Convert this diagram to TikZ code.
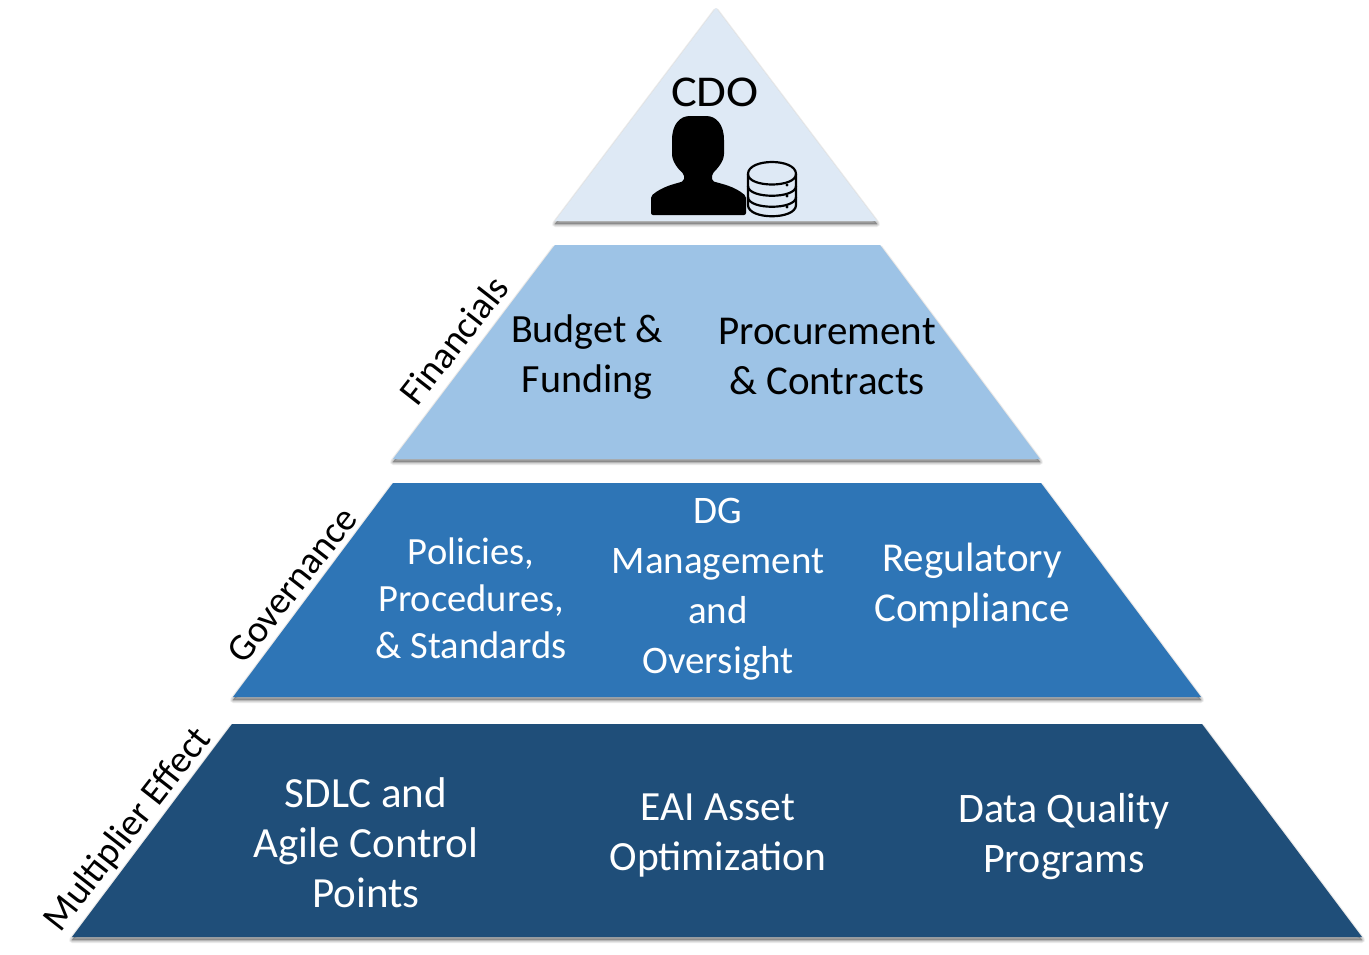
\documentclass[tikz,border=0pt]{standalone}
\usepackage{fontspec}
\setmainfont{Carlito}
\definecolor{c1}{HTML}{DEE9F5}
\definecolor{c2}{HTML}{9DC3E6}
\definecolor{c3}{HTML}{2E75B6}
\definecolor{c4}{HTML}{1F4E79}
\newcommand{\softshadow}[1]{%
 \foreach \w in {6,4,2,0.5}{\filldraw[black,opacity=.08,line width=\w pt,line join=round,shift={(0,3)}] #1;}}
\tikzset{x=1pt,y=-1pt,
 lab/.style={align=center,text=black},
 wlab/.style={align=center,text=white},
 side/.style={font=\fontsize{38}{40}\selectfont,text=black,rotate=52},
 fs/.style={font=\fontsize{#1}{50}\selectfont}}
\begin{document}
\begin{tikzpicture}
\useasboundingbox (0,0) rectangle (1369,954);
\fill[white] (0,0) rectangle (1369,954);
% shadows
\softshadow{(716,8)--(877,221)--(555,221)--cycle}
\softshadow{(555,245)--(880,245)--(1040,459)--(393,459)--cycle}
\softshadow{(393,483)--(1041,483)--(1201,697)--(233,697)--cycle}
\softshadow{(232,724)--(1202,724)--(1362,937)--(72,937)--cycle}
% tiers
\fill[c1] (716,8)--(877,221)--(555,221)--cycle;
\fill[c2] (555,245)--(880,245)--(1040,459)--(393,459)--cycle;
\fill[c3] (393,483)--(1041,483)--(1201,697)--(233,697)--cycle;
\fill[c4] (232,724)--(1202,724)--(1362,937)--(72,937)--cycle;
% person
\fill[black,rounded corners=2pt] (672,142) .. controls (672,124) and (680,116) .. (692,116) -- (704,116) .. controls (716,116) and (724,124) .. (724,142) -- (724,152) .. controls (724,162) and (716,170) .. (712,174) -- (712,181) .. controls (722,184) and (734,186) .. (746,196) -- (746,215) -- (651,215) -- (651,196) .. controls (663,186) and (675,184) .. (684,181) -- (684,174) .. controls (679,170) and (672,162) .. (672,152) -- cycle;
% database
\begin{scope}[line width=2.2pt,draw=black]
\draw (748,174) -- (748,205) .. controls (748,220) and (796,220) .. (796,205) -- (796,174);
\draw (748,174) .. controls (748,158) and (796,158) .. (796,174) .. controls (796,188) and (748,188) .. (748,174) -- cycle;
\draw (748,186) .. controls (748,199) and (796,199) .. (796,186);
\draw (748,197) .. controls (748,210) and (796,210) .. (796,197);
\fill (787,185) circle (1.6);
\fill (787,196) circle (1.6);
\fill (787,207) circle (1.6);
\end{scope}
% text
\node[lab,font=\fontsize{44}{44}\selectfont,xscale=1.1] (cdo) at (715,92) {CDO};
\node[lab,fs=40] (bud) at (587,357) {Budget \&\\Funding};
\node[lab,fs=41] (pro) at (827,356) {Procurement\\\& Contracts};
\node[wlab,fs=38.5] (pol) at (471,598) {Policies,\\[-3pt]Procedures,\\[-3pt]\& Standards};
\node[wlab,fs=39] (dg) at (718,589) {DG\\Management\\and\\Oversight};
\node[wlab,fs=41] (reg) at (972,586) {Regulatory\\Compliance};
\node[wlab,fs=43] (sdl) at (366,843) {SDLC and\\Agile Control\\Points};
\node[wlab,fs=41.5] (eai) at (718,836) {EAI Asset\\Optimization};
\node[wlab,fs=42] (dq) at (1064,837) {Data Quality\\Programs};
\node[side] (fin) at (454,340) {Financials};
\node[side] (gov) at (292,585) {Governance};
\node[side] (mul) at (128,830) {Multiplier Effect};
\end{tikzpicture}
\end{document}
